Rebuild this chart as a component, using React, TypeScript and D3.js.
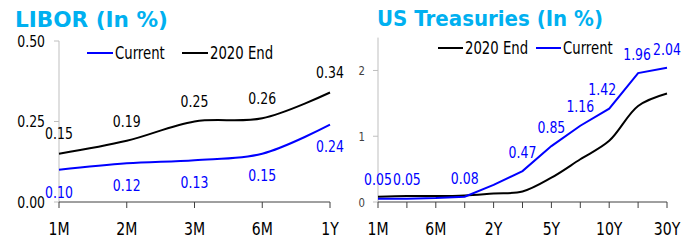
import React from "react";
import * as d3 from "d3";

const liborCats = ["1M", "2M", "3M", "6M", "1Y"];
const liborCurrent = [0.10, 0.12, 0.13, 0.15, 0.24];
const libor2020 = [0.15, 0.19, 0.25, 0.26, 0.34];
const liborTicks = [0, 0.25, 0.5];
const liborTickLabels = ["0.00", "0.25", "0.50"];

const ustCats = ["1M", "3M", "6M", "1Y", "2Y", "3Y", "5Y", "7Y", "10Y", "20Y", "30Y"];
const ustCurrent = [0.05, 0.05, 0.06, 0.08, 0.26, 0.47, 0.85, 1.16, 1.42, 1.96, 2.04];
const ust2020 = [0.08, 0.09, 0.09, 0.10, 0.13, 0.16, 0.37, 0.65, 0.93, 1.46, 1.65];
const ustCurrentLabels = ["0.05", "0.05", "", "0.08", "", "0.47", "0.85", "1.16", "1.42", "1.96", "2.04"];
const ustTicks = [0, 1, 2];
const ustTickLabels = ["0", "1", "2"];
const ustXLabels = ["1M", "", "6M", "", "2Y", "", "5Y", "", "10Y", "", "30Y"];

const BLUE = "#0000FF";
const BLACK = "#000000";
const TITLE = "#00B0F0";
const FONT = "DejaVu Sans, Verdana, sans-serif";
const SX = 0.78;

function T({ x, y, size, fill = "#000", anchor = "middle", children }: any) {
  return (
    <text
      transform={`translate(${x},${y}) scale(${SX},1)`}
      fontFamily={FONT}
      fontSize={size}
      fill={fill}
      textAnchor={anchor}
      dy="0.36em"
    >
      {children}
    </text>
  );
}

function Title({ x, y, len, children }: any) {
  return (
    <text
      x={x}
      y={y}
      fontFamily={FONT}
      fontWeight="bold"
      fontSize={21}
      fill={TITLE}
      textLength={len}
      lengthAdjust="spacingAndGlyphs"
    >
      {children}
    </text>
  );
}

export default function App() {
  // LIBOR chart
  const lx = d3.scalePoint<string>().domain(liborCats).range([59, 330]);
  const ly = d3.scaleLinear().domain([0, 0.5]).range([202, 41]);
  const smooth = d3.curveCatmullRom.alpha(0.5);
  const lLine = (vals: number[]) =>
    d3.line<number>().x((_, i) => lx(liborCats[i])!).y((v) => ly(v)).curve(smooth)(vals)!;

  // UST chart
  const ux = d3.scalePoint<string>().domain(ustCats).range([378, 667]);
  const uy = d3.scaleLinear().domain([0, 2.5]).range([202, 37.6]);
  const uLineSmooth = d3
    .line<number>()
    .x((_, i) => ux(ustCats[i])!)
    .y((v) => uy(v))
    .curve(smooth);
  const uLineStraight = d3
    .line<number>()
    .x((_, i) => ux(ustCats[i])!)
    .y((v) => uy(v));
  const labelNudge: Record<number, number> = { 8: -7, 9: -1 };

  return (
    <svg width={689} height={244} style={{ position: "absolute", left: 0, top: 0 }}>
      <rect width={689} height={244} fill="#fff" />
      {/* Titles */}
      <Title x={15} y={27} len={153}>LIBOR (In %)</Title>
      <Title x={377} y={26} len={226}>US Treasuries (In %)</Title>

      {/* LIBOR axes */}
      <line x1={59} x2={59} y1={ly(0.5)} y2={ly(0)} stroke="#BFBFBF" strokeWidth={1} />
      {liborTicks.map((t, i) => (
        <g key={"lt" + i}>
          <line x1={54} x2={59} y1={ly(t)} y2={ly(t)} stroke="#BFBFBF" />
          <T x={45} y={ly(t)} size={16} anchor="end" fill="#000">
            {liborTickLabels[i]}
          </T>
        </g>
      ))}
      <line x1={59} x2={330} y1={ly(0)} y2={ly(0)} stroke="#404040" strokeWidth={1} />
      {liborCats.map((c) => (
        <g key={"lx" + c}>
          <line x1={lx(c)} x2={lx(c)} y1={ly(0)} y2={ly(0) + 6} stroke="#404040" />
          <T x={lx(c)} y={228.5} size={18}>
            {c}
          </T>
        </g>
      ))}
      <path d={lLine(libor2020)} fill="none" stroke={BLACK} strokeWidth={2} />
      <path d={lLine(liborCurrent)} fill="none" stroke={BLUE} strokeWidth={2} />
      {libor2020.map((v, i) => (
        <T key={"lb" + i} x={lx(liborCats[i])!} y={ly(v) - 20} size={16}>
          {v.toFixed(2)}
        </T>
      ))}
      {liborCurrent.map((v, i) => (
        <T key={"lc" + i} x={lx(liborCats[i])!} y={ly(v) + 22} size={16} fill={BLUE}>
          {v.toFixed(2)}
        </T>
      ))}
      {/* LIBOR legend */}
      <line x1={87} x2={113} y1={53} y2={53} stroke={BLUE} strokeWidth={2} />
      <T x={115} y={53} size={17} anchor="start">
        Current
      </T>
      <line x1={182} x2={208} y1={53} y2={53} stroke={BLACK} strokeWidth={2} />
      <T x={210} y={53} size={17} anchor="start">
        2020 End
      </T>

      {/* UST axes */}
      <line x1={378} x2={378} y1={uy(2.5)} y2={uy(0)} stroke="#BFBFBF" strokeWidth={1} />
      {ustTicks.map((t, i) => (
        <g key={"ut" + i}>
          <line x1={373} x2={378} y1={uy(t)} y2={uy(t)} stroke="#BFBFBF" />
          <T x={365} y={uy(t)} size={13} anchor="end" fill="#404040">
            {ustTickLabels[i]}
          </T>
        </g>
      ))}
      <line x1={378} x2={667} y1={uy(0)} y2={uy(0)} stroke="#404040" strokeWidth={1} />
      {ustCats.map((c, i) => (
        <g key={"ux" + c}>
          <line x1={ux(c)} x2={ux(c)} y1={uy(0)} y2={uy(0) + 6} stroke="#404040" />
          {ustXLabels[i] && (
            <T x={ux(c)} y={228.5} size={18}>
              {ustXLabels[i]}
            </T>
          )}
        </g>
      ))}
      <path d={uLineSmooth(ust2020)!} fill="none" stroke={BLACK} strokeWidth={2} />
      <path d={uLineStraight(ustCurrent)!} fill="none" stroke={BLUE} strokeWidth={2} />
      {ustCurrent.map((v, i) =>
        ustCurrentLabels[i] ? (
          <T
            key={"uc" + i}
            x={ux(ustCats[i])! + (labelNudge[i] || 0)}
            y={uy(v) - 19}
            size={16}
            fill={BLUE}
          >
            {ustCurrentLabels[i]}
          </T>
        ) : null
      )}
      {/* UST legend */}
      <line x1={438} x2={463} y1={48} y2={48} stroke={BLACK} strokeWidth={2} />
      <T x={465} y={48} size={17} anchor="start">
        2020 End
      </T>
      <line x1={536} x2={561} y1={48} y2={48} stroke={BLUE} strokeWidth={2} />
      <T x={563} y={48} size={17} anchor="start">
        Current
      </T>
    </svg>
  );
}
